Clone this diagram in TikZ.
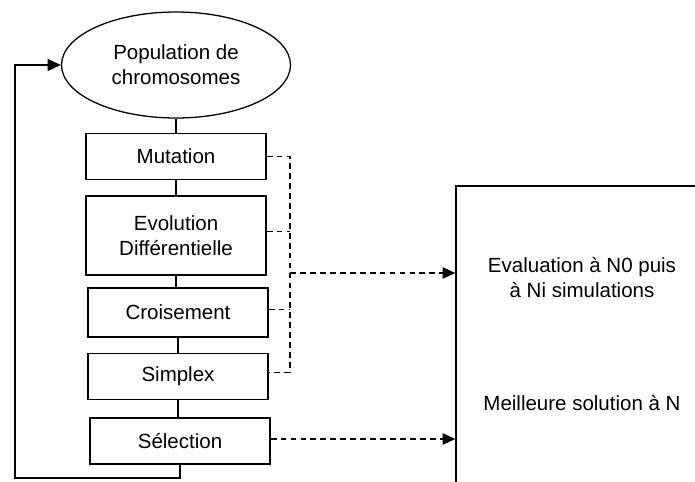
\documentclass[tikz,border=0pt]{standalone}
\usepackage{fontspec}
\setmainfont{Liberation Sans}
\usepackage{tikz}
\usetikzlibrary{shapes.geometric, arrows.meta, positioning, calc}
\tikzset{
  stage/.style      = {rectangle, draw=black, line width=1.1pt,
                       minimum height=14mm, minimum width=54mm, align=center,
                       font=\fontsize{17.5}{21.3}\selectfont},
  pop/.style        = {ellipse, draw=black, line width=1.1pt,
                       minimum height=31.8mm, minimum width=68.7mm, align=center,
                       font=\fontsize{17.5}{21.3}\selectfont, inner sep=0pt},
  bigbox/.style     = {rectangle, draw=black, line width=1.1pt,
                       minimum height=98.5mm, minimum width=83.2mm},
  boxtext/.style    = {align=center, font=\fontsize{17.5}{21.3}\selectfont},
  link/.style       = {line width=1.1pt, black},
  arrow/.style      = {-{Triangle[length=4mm, width=3.6mm]}, line width=1.1pt, black},
  dashedlink/.style = {line width=1.1pt, black, dash pattern=on 5pt off 3.5pt},
  dashedarrow/.style= {-{Triangle[length=3.8mm, width=3.4mm]}, line width=1.1pt,
                       black, dash pattern=on 5pt off 3.5pt},
}
\begin{document}
\begin{tikzpicture}

  \clip (0,0) rectangle (20.85,14.43);

  % Population and operators (left column)
  \node[pop] (popu) at (5.28,12.48) {Population de\\chromosomes};
  \node[stage] (mut) at (5.28,9.735) {Mutation};
  \node[stage, minimum height=23.7mm] (evo) at (5.28,7.365) {Evolution\\Différentielle};
  \node[stage, minimum height=14.7mm] (cro) at (5.34,5.055) {Croisement};
  \node[stage] (sim) at (5.34,3.135) {Simplex};
  \node[stage, minimum height=13.8mm] (sel) at (5.40,1.20) {Sélection};

  % Evaluation box (runs off the page)
  \node[bigbox] (eval) at (17.84,3.925) {};
  \node[boxtext] (evaltxt) at (17.46,6.09) {Evaluation à N0 puis\\à Ni simulations};
  \node[boxtext] (besttxt) at (17.46,2.34) {Meilleure solution à N};

  % Helper points
  \coordinate (loop) at (0.45,0.09);
  \coordinate (bus) at (8.70,6.24);

  % Chain of operators
  \draw[link] (popu.south) -- (popu.south |- mut.north);
  \draw[link] (mut.south) -- (mut.south |- evo.north);
  \draw[link] (evo.south) -- (evo.south |- cro.north);
  \draw[link] (cro.south) -- (cro.south |- sim.north);
  \draw[link] (sim.south) -- (sim.south |- sel.north);

  % Feedback loop
  \draw[arrow] (sel.south) |- (loop) |- (popu.west);

  % Dashed bus to evaluation
  \draw[dashedlink] (mut.east) -| (bus) |- ($(sim.east)+(0,0.13)$);
  \draw[dashedlink] ($(evo.east)+(0,0.13)$) -- (bus |- {$(evo.east)+(0,0.13)$});
  \draw[dashedlink] ($(cro.east)+(0,0.08)$) -- (bus |- {$(cro.east)+(0,0.08)$});
  \draw[dashedarrow] (bus) -- (eval.west |- bus);
  \draw[dashedarrow] ($(sel.east)+(0,0.06)$) -- (eval.west |- {$(sel.east)+(0,0.06)$});

\end{tikzpicture}
\end{document}
